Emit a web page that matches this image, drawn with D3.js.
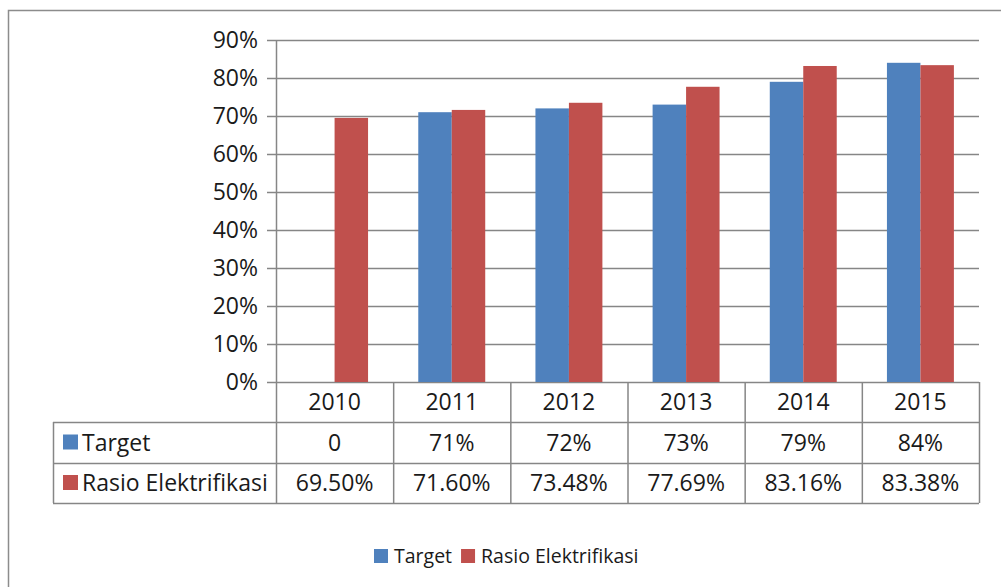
<!DOCTYPE html>
<html>
<head>
<meta charset="utf-8">
<script src="https://cdn.jsdelivr.net/npm/d3@7"></script>
<style>
  body { margin: 0; background: #fff; }
  svg { display: block; }
  text { font-family: "Open Sans", "Lato", sans-serif; fill: #1a1a1a; }
</style>
</head>
<body>
<svg width="1001" height="587"></svg>
<script>
// data
var years = ["2010", "2011", "2012", "2013", "2014", "2015"];
var target = [0, 71, 72, 73, 79, 84];
var rasio = [69.50, 71.60, 73.48, 77.69, 83.16, 83.38];
var targetLabels = ["0", "71%", "72%", "73%", "79%", "84%"];
var rasioLabels = ["69.50%", "71.60%", "73.48%", "77.69%", "83.16%", "83.38%"];
var seriesNames = ["Target", "Rasio Elektrifikasi"];
var yTicks = [0, 10, 20, 30, 40, 50, 60, 70, 80, 90];

var colors = ["#4f81bd", "#c0504d"];
var gridColor = "#868686";

var svg = d3.select("svg");

// outer frame
svg.append("rect")
    .attr("x", 8.5).attr("y", 10.5)
    .attr("width", 1000).attr("height", 600)
    .attr("fill", "none").attr("stroke", "#8c8c8c").attr("stroke-width", 1.5);

const plot = {left: 276, right: 979, top: 40, bottom: 382};
var tableLeft = 53;
var rowY = [382, 422, 463, 503];

var x = d3.scaleBand().domain(years).range([plot.left, plot.right]);
var y = d3.scaleLinear().domain([0, 90]).range([plot.bottom, plot.top]);

var sub = d3.scaleBand().domain(seriesNames)
    .range([0, x.bandwidth()])
    .paddingInner(0).paddingOuter(0.75);

// gridlines + ticks
svg.append("g").selectAll("line")
  .data(yTicks)
  .enter().append("line")
    .attr("x1", plot.left - 9).attr("x2", plot.right)
    .attr("y1", function(d) { return Math.round(y(d)) + 0.5; })
    .attr("y2", function(d) { return Math.round(y(d)) + 0.5; })
    .attr("stroke", gridColor).attr("stroke-width", 1.5);

svg.append("g").selectAll("text")
  .data(yTicks)
  .enter().append("text")
    .attr("x", plot.left - 18)
    .attr("y", function(d) { return y(d); })
    .attr("dy", "0.36em")
    .attr("text-anchor", "end")
    .style("font-size", "23px")
    .text(function(d) { return d + "%"; });

// bars
var series = [target, rasio];
var bars = svg.append("g");
series.forEach(function(vals, si) {
  bars.selectAll(".s" + si)
    .data(vals)
    .enter().append("rect")
      .attr("class", "s" + si)
      .attr("x", function(d, i) { return x(years[i]) + sub(seriesNames[si]); })
      .attr("y", function(d) { return y(d); })
      .attr("width", sub.bandwidth())
      .attr("height", function(d) { return y(0) - y(d); })
      .attr("fill", colors[si]);
});

// y axis line
svg.append("line")
    .attr("x1", plot.left + 0.5).attr("x2", plot.left + 0.5)
    .attr("y1", plot.top).attr("y2", rowY[3])
    .attr("stroke", gridColor).attr("stroke-width", 1.5);

// data table
var table = svg.append("g").attr("stroke", gridColor).attr("stroke-width", 1.5);
[1, 2, 3].forEach(function(r) {
  table.append("line")
    .attr("x1", tableLeft).attr("x2", plot.right)
    .attr("y1", rowY[r] + 0.5).attr("y2", rowY[r] + 0.5);
});
table.append("line")
    .attr("x1", tableLeft + 0.5).attr("x2", tableLeft + 0.5)
    .attr("y1", rowY[1]).attr("y2", rowY[3]);
table.selectAll(".vl")
  .data(years)
  .enter().append("line")
    .attr("class", "vl")
    .attr("x1", function(d) { return x(d) + x.bandwidth() + 0.5; })
    .attr("x2", function(d) { return x(d) + x.bandwidth() + 0.5; })
    .attr("y1", rowY[0]).attr("y2", rowY[3]);

var rows = [years, targetLabels, rasioLabels];
rows.forEach(function(labels, r) {
  svg.append("g").selectAll("text")
    .data(labels)
    .enter().append("text")
      .attr("x", function(d, i) { return x(years[i]) + x.bandwidth() / 2; })
      .attr("y", (rowY[r] + rowY[r + 1]) / 2)
      .attr("dy", "0.36em")
      .attr("text-anchor", "middle")
      .style("font-size", "23px")
      .text(function(d) { return d; });
});

seriesNames.forEach(function(name, si) {
  var cy = (rowY[si + 1] + rowY[si + 2]) / 2;
  svg.append("rect")
      .attr("x", 63).attr("y", cy - 8)
      .attr("width", 15).attr("height", 15)
      .attr("fill", colors[si]);
  svg.append("text")
      .attr("x", 82).attr("y", cy)
      .attr("dy", "0.36em")
      .style("font-size", "23px")
      .text(name);
});

// legend
var legend = svg.append("g").attr("transform", "translate(374,556)");
var lx = 0;
seriesNames.forEach(function(name, si) {
  legend.append("rect")
      .attr("x", lx).attr("y", -7)
      .attr("width", 14).attr("height", 14)
      .attr("fill", colors[si]);
  var t = legend.append("text")
      .attr("x", lx + 20).attr("y", 0)
      .attr("dy", "0.36em")
      .style("font-size", "19.5px")
      .text(name);
  lx += 20 + t.node().getComputedTextLength() + 9;
});
</script>
</body>
</html>
